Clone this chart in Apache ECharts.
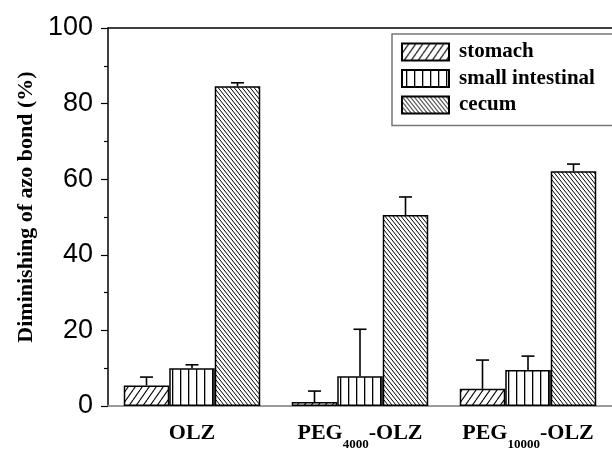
<!DOCTYPE html>
<html>
<head>
<meta charset="utf-8">
<script src="https://cdn.jsdelivr.net/npm/echarts@6/dist/echarts.min.js"></script>
<style>
html,body{margin:0;padding:0;background:#fff;}
#chart{width:612px;height:451px;}
</style>
</head>
<body>
<div id="chart"></div>
<script>
// ---- data ----
var categories = ['OLZ', 'PEG_4000-OLZ', 'PEG_10000-OLZ'];
var seriesNames = ['stomach', 'small intestinal', 'cecum'];
var stomach = [5.45, 1.05, 4.55];
var stomachErr = [2.2, 2.9, 7.6];
var smallIntestinal = [10.0, 7.9, 9.5];
var smallIntestinalErr = [0.9, 12.4, 3.7];
var cecum = [84.6, 50.5, 62.1];
var cecumErr = [0.9, 4.8, 1.9];
var yTicks = [0, 20, 40, 60, 80, 100];

// ---- patterns ----
function makePattern(kind) {
  var c = document.createElement('canvas');
  var ctx;
  if (kind === 'fwd') {
    var w = 7, h = 10;
    c.width = w; c.height = h; ctx = c.getContext('2d');
    ctx.fillStyle = '#fff'; ctx.fillRect(0, 0, w, h);
    ctx.strokeStyle = '#000'; ctx.lineWidth = 1.1;
    for (var k = -1; k <= 1; k++) {
      ctx.beginPath(); ctx.moveTo(k * w, h); ctx.lineTo(k * w + w, 0); ctx.stroke();
    }
  } else if (kind === 'vert') {
    var w2 = 8, h2 = 8;
    c.width = w2; c.height = h2; ctx = c.getContext('2d');
    ctx.fillStyle = '#fff'; ctx.fillRect(0, 0, w2, h2);
    ctx.fillStyle = '#000'; ctx.fillRect(4, 0, 1.3, h2);
  } else {
    var w3 = 4, h3 = 5;
    c.width = w3; c.height = h3; ctx = c.getContext('2d');
    ctx.fillStyle = '#fff'; ctx.fillRect(0, 0, w3, h3);
    ctx.strokeStyle = '#000'; ctx.lineWidth = 1.0;
    for (var j = -1; j <= 1; j++) {
      ctx.beginPath(); ctx.moveTo(j * w3, 0); ctx.lineTo(j * w3 + w3, h3); ctx.stroke();
    }
  }
  return { image: c, repeat: 'repeat' };
}
var patterns = [makePattern('fwd'), makePattern('vert'), makePattern('back')];

var values = [stomach, smallIntestinal, cecum];
var errors = [stomachErr, smallIntestinalErr, cecumErr];
var BAR_W = 45.5;

var serif = 'Liberation Serif';
var series = [];
values.forEach(function (vals, s) {
  series.push({
    name: seriesNames[s],
    type: 'bar',
    data: vals,
    barWidth: BAR_W,
    barGap: '0%',
    itemStyle: { color: patterns[s], borderColor: '#000', borderWidth: 1.5 },
    emphasis: { disabled: true },
    z: 2
  });
});
values.forEach(function (vals, s) {
  var d = vals.map(function (v, i) { return [i, v, v + errors[s][i]]; });
  series.push({
    type: 'custom',
    data: d,
    z: 5,
    silent: true,
    renderItem: function (params, api) {
      var p0 = api.coord([api.value(0), api.value(1)]);
      var p1 = api.coord([api.value(0), api.value(2)]);
      var x = p0[0] + (s - 1) * BAR_W;
      var st = { stroke: '#000', lineWidth: 1.6 };
      return {
        type: 'group',
        children: [
          { type: 'line', shape: { x1: x, y1: p0[1], x2: x, y2: p1[1] }, style: st },
          { type: 'line', shape: { x1: x - 6.5, y1: p1[1], x2: x + 6.5, y2: p1[1] }, style: st }
        ]
      };
    }
  });
});

var chart = echarts.init(document.getElementById('chart'), null, { renderer: 'canvas' });
chart.setOption({
  animation: false,
  backgroundColor: '#fff',
  grid: { left: 108, top: 28, width: 508.5, height: 380, containLabel: false },
  legend: {
    data: seriesNames,
    orient: 'vertical',
    left: 392,
    top: 34,
    icon: 'rect',
    itemWidth: 47,
    itemHeight: 17,
    itemGap: 5.5,
    padding: [7.5, 40, 10, 9],
    borderColor: '#777',
    borderWidth: 1.5,
    selectedMode: false,
    textStyle: { fontFamily: serif, fontWeight: 'bold', fontSize: 21, lineHeight: 17, color: '#000', padding: [0, 0, 0, 5] }
  },
  xAxis: [{
    type: 'category',
    data: categories,
    axisLine: { lineStyle: { color: '#999', width: 2 } },
    axisTick: { show: false },
    axisLabel: {
      interval: 0,
      margin: 16,
      verticalAlign: 'top',
      formatter: function (v) {
        var m = v.match(/^(.*?)_(\d+)(.*)$/);
        if (!m) return '{b|' + v + '}';
        return '{b|' + m[1] + '}{s|' + m[2] + '}{b|' + m[3] + '}';
      },
      rich: {
        b: { fontFamily: serif, fontWeight: 'bold', fontSize: 22, color: '#000', lineHeight: 24, verticalAlign: 'top' },
        s: { fontFamily: serif, fontWeight: 'bold', fontSize: 13, color: '#000', lineHeight: 14, padding: [16, 0, 0, 0], verticalAlign: 'top' }
      }
    }
  }, {
    type: 'category',
    data: categories,
    position: 'top',
    axisLine: { lineStyle: { color: '#000', width: 1.5 } },
    axisTick: { show: false },
    axisLabel: { show: false }
  }],
  yAxis: {
    type: 'value',
    min: 0, max: 100, interval: 20,
    name: 'Diminishing of azo bond (%)',
    nameLocation: 'middle',
    nameGap: 66,
    nameTextStyle: { fontFamily: serif, fontWeight: 'bold', fontSize: 22, color: '#000', padding: [0, 0, 0, 20] },
    axisLine: { show: true, lineStyle: { color: '#000', width: 1.5 } },
    axisTick: { show: true, inside: false, length: 7, lineStyle: { color: '#000', width: 1.2 } },
    minorTick: { show: true, splitNumber: 2, length: 4, lineStyle: { color: '#000', width: 1.2 } },
    splitLine: { show: false },
    axisLabel: {
      margin: 15,
      fontFamily: 'Liberation Sans', fontSize: 27, color: '#000',
      formatter: function (v) { return yTicks.indexOf(v) >= 0 ? String(v) : ''; }
    }
  },
  series: series
});
</script>
</body>
</html>
